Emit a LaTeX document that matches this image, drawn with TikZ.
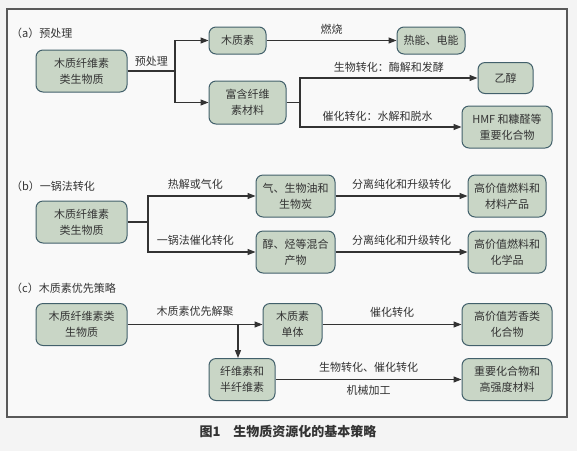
\documentclass[tikz,border=0pt]{standalone}
\usepackage{fontspec}
\setmainfont{Noto Sans CJK SC}
\usetikzlibrary{arrows.meta}
\definecolor{boxfill}{HTML}{C9D6C6}
\definecolor{boxline}{HTML}{42606B}
\definecolor{ink}{HTML}{333333}
\definecolor{paper}{HTML}{F4F4F4}
\definecolor{panel}{HTML}{F9F9F9}
\tikzset{
  box/.style={draw=boxline, fill=boxfill, rounded corners=7pt, line width=1pt, align=center,
    text=ink, inner sep=0pt, font=\fontsize{11}{16}\selectfont},
  lbl/.style={text=ink, inner sep=0pt, font=\fontsize{11}{13}\selectfont},
  arr/.style={draw=ink, line width=1.1pt, -{Triangle[length=8pt,width=6pt]}},
  ln/.style={draw=ink, line width=1.1pt},
}
\begin{document}
\begin{tikzpicture}[x=1pt, y=-1pt]
    % Background and frame
    \fill[paper] (0,0) rectangle (577,451);
    \useasboundingbox (0,0) rectangle (577,451);
    \draw[line width=1.2pt, draw=black!65, fill=panel] (7,9) rectangle (567,417);

    % (a) Nodes
    \node[lbl, anchor=west] at (11,33) (Ta) {（a）预处理};
    \node[box, minimum width=91pt, minimum height=42pt] at (81.5,71) (A1) {木质纤维素\\类生物质};
    \node[box, minimum width=57pt, minimum height=27pt] at (237.5,40.5) (A2) {木质素};
    \node[box, minimum width=77pt, minimum height=43pt] at (247.5,102.5) (A3) {富含纤维\\素材料};
    \node[box, minimum width=68pt, minimum height=27pt] at (431,40.5) (A4) {热能、电能};
    \node[box, minimum width=55pt, minimum height=31pt] at (505.5,78) (A5) {乙醇};
    \node[box, minimum width=90pt, minimum height=42pt] at (507,127) (A6) {HMF 和糠醛等\\重要化合物};
    \coordinate (Ja) at (175,71);
    \coordinate (Jb) at (300,102.5);

    % (a) Arrows and labels
    \draw[ln] (A1.east) -- (Ja) node[lbl, midway, above=4pt] {预处理};
    \draw[arr] (Ja) |- (A2);
    \draw[arr] (Ja) |- (A3);
    \draw[arr] (A2) -- (A4) node[lbl, midway, above=6pt] {燃烧};
    \draw[ln] (A3.east) -- (Jb);
    \draw[arr] (Jb) |- (A5) node[lbl, pos=0.75, above=5pt] {生物转化：酶解和发酵};
    \draw[arr] (Jb) |- (A6) node[lbl, pos=0.74, above=5pt] {催化转化：水解和脱水};

    % (b) Nodes
    \node[lbl, anchor=west] at (11,186) (Tb) {（b）一锅法转化};
    \node[box, minimum width=91pt, minimum height=42pt] at (81.5,222) (B1) {木质纤维素\\类生物质};
    \node[box, minimum width=79pt, minimum height=42pt] at (295.5,196) (B2) {气、生物油和\\生物炭};
    \node[box, minimum width=79pt, minimum height=42pt] at (295.5,252) (B3) {醇、烃等混合\\产物};
    \node[box, minimum width=78pt, minimum height=42pt] at (507,196) (B4) {高价值燃料和\\材料产品};
    \node[box, minimum width=78pt, minimum height=42pt] at (507,252) (B5) {高价值燃料和\\化学品};
    \coordinate (Jc) at (148,222);

    % (b) Arrows and labels
    \draw[ln] (B1.east) -- (Jc);
    \draw[arr] (Jc) |- (B2) node[lbl, pos=0.72, above=6pt] {热解或气化};
    \draw[arr] (Jc) |- (B3) node[lbl, pos=0.72, above=6pt] {一锅法催化转化};
    \draw[arr] (B2) -- (B4) node[lbl, midway, above=6pt] {分离纯化和升级转化};
    \draw[arr] (B3) -- (B5) node[lbl, midway, above=6pt] {分离纯化和升级转化};

    % (c) Nodes
    \node[lbl, anchor=west] at (11,288) (Tc) {（c）木质素优先策略};
    \node[box, minimum width=91pt, minimum height=42pt] at (81.5,324.5) (C1) {木质纤维素类\\生物质};
    \node[box, minimum width=59pt, minimum height=42pt] at (292.5,324.5) (C2) {木质素\\单体};
    \node[box, minimum width=66pt, minimum height=42pt] at (242,379.5) (C3) {纤维素和\\半纤维素};
    \node[box, minimum width=90pt, minimum height=42pt] at (507,324.5) (C4) {高价值芳香类\\化合物};
    \node[box, minimum width=90pt, minimum height=42pt] at (507,379.5) (C5) {重要化合物和\\高强度材料};
    \coordinate (Jd) at (238,324.5);

    % (c) Arrows and labels
    \draw[arr] (C1) -- (C2) node[lbl, midway, above=7pt] {木质素优先解聚};
    \draw[arr] (Jd) -- (Jd |- C3.north);
    \draw[arr] (C2) -- (C4) node[lbl, midway, above=7pt] {催化转化};
    \draw[arr] (C3) -- (C5) node[lbl, midway, above=7pt] {生物转化、催化转化}
                            node[lbl, midway, below=5pt] {机械加工};

    % Caption
    \node[text=ink, font=\fontsize{13}{15}\selectfont\bfseries] at (288,431) (Cap) {图1\quad 生物质资源化的基本策略};
\end{tikzpicture}
\end{document}
